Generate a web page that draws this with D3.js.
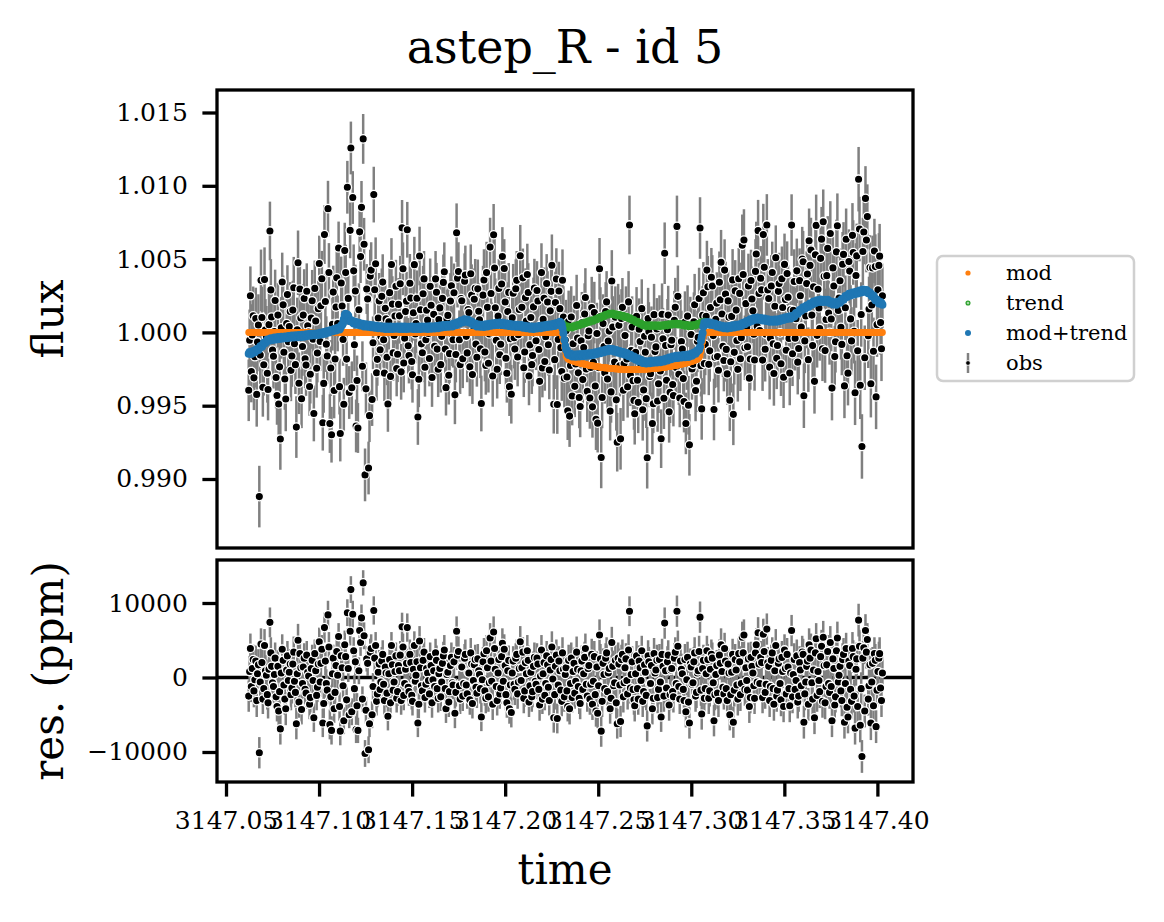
<!DOCTYPE html>
<html>
<head>
<meta charset="utf-8">
<script src="https://cdn.jsdelivr.net/npm/d3@7"></script>
<style>
  body { margin: 0; background: #fff; }
  svg { display: block; font-family: "DejaVu Serif", serif; }
  .tick text { font-family: "DejaVu Serif", serif; font-size: 25px; fill: #000; }
  .tick line { stroke: #000; stroke-width: 3.3; }
</style>
</head>
<body>
<div id="chart"></div>
<script>
// two interleaved sets of exposures (A and B)
// times: time - 3147, in units of 1e-4 d
const timeOffset = [
  622,631,641,650,660,669,679,688,698,707,717,726,736,745,755,764,774,783,792,802,811,821,830,840,849,859,868,878,887,897,
  906,915,925,934,944,953,963,972,982,991,1001,1010,1020,1029,1039,1048,1058,1067,1076,1086,1095,1105,1114,1124,1133,1143,1152,1162,1171,1181,
  1190,1199,1209,1218,1228,1237,1247,1256,1266,1275,1285,1294,1304,1313,1323,1332,1342,1351,1360,1370,1379,1389,1398,1408,1417,1427,1436,1446,1455,1465,
  1474,1483,1493,1502,1512,1521,1531,1540,1550,1559,1569,1578,1588,1597,1607,1616,1626,1635,1644,1654,1663,1673,1682,1692,1701,1711,1720,1730,1739,1749,
  1758,1767,1777,1786,1796,1805,1815,1824,1834,1843,1853,1862,1872,1881,1891,1900,1910,1919,1928,1938,1947,1957,1966,1976,1985,1995,2004,2014,2023,2033,
  2043,2052,2062,2071,2081,2090,2100,2109,2119,2128,2138,2147,2157,2166,2176,2185,2195,2204,2213,2223,2232,2242,2251,2261,2270,2280,2289,2299,2308,2318,
  2327,2336,2346,2355,2365,2374,2384,2393,2403,2412,2422,2431,2441,2450,2460,2469,2479,2488,2497,2507,2516,2526,2535,2545,2554,2564,2573,2583,2592,2602,
  2611,2620,2630,2639,2649,2658,2668,2677,2687,2696,2706,2715,2725,2734,2744,2753,2763,2772,2781,2791,2800,2810,2819,2829,2838,2848,2857,2867,2876,2886,
  2895,2904,2914,2923,2933,2942,2952,2961,2971,2980,2990,2999,3009,3018,3028,3037,3047,3056,3065,3075,3084,3094,3103,3113,3122,3132,3141,3151,3160,3170,
  3179,3188,3198,3207,3217,3226,3236,3245,3255,3264,3274,3283,3293,3302,3312,3321,3331,3340,3349,3359,3368,3378,3387,3397,3406,3416,3425,3435,3444,3454,
  3463,3472,3482,3491,3501,3510,3520,3529,3539,3548,3558,3567,3577,3586,3596,3605,3615,3624,3633,3643,3652,3662,3671,3681,3690,3700,3709,3719,3728,3738,
  3747,3756,3766,3775,3785,3794,3804,3813,3823,3832,3842,3851,3861,3870,3880,3889,3899,3908,3917,3927,3936,3946,3955,3965,3974,3984,3993,4003,4012,4022
];
const timeOffsetB = [
  627,636,646,655,665,674,684,693,703,712,722,731,741,750,760,769,779,788,797,807,816,826,835,845,854,864,873,883,892,902,
  911,920,930,939,949,958,968,977,987,996,1006,1015,1025,1034,1044,1053,1063,1072,1081,1091,1100,1110,1119,1129,1138,1148,1157,1167,1176,1186,
  1195,1204,1214,1223,1233,1242,1252,1261,1271,1280,1290,1299,1309,1318,1328,1337,1347,1356,1365,1375,1384,1394,1403,1413,1422,1432,1441,1451,1460,1470,
  1479,1488,1498,1507,1517,1526,1536,1545,1555,1564,1574,1583,1593,1602,1612,1621,1631,1640,1649,1659,1668,1678,1687,1697,1706,1716,1725,1735,1744,1754,
  1763,1772,1782,1791,1801,1810,1820,1829,1839,1848,1858,1867,1877,1886,1896,1905,1915,1924,1933,1943,1952,1962,1971,1981,1990,2000,2009,2019,2028,2038,
  2048,2057,2067,2076,2086,2095,2105,2114,2124,2133,2143,2152,2162,2171,2181,2190,2200,2209,2218,2228,2237,2247,2256,2266,2275,2285,2294,2304,2313,2323,
  2332,2341,2351,2360,2370,2379,2389,2398,2408,2417,2427,2436,2446,2455,2465,2474,2484,2493,2502,2512,2521,2531,2540,2550,2559,2569,2578,2588,2597,2607,
  2616,2625,2635,2644,2654,2663,2673,2682,2692,2701,2711,2720,2730,2739,2749,2758,2768,2777,2786,2796,2805,2815,2824,2834,2843,2853,2862,2872,2881,2891,
  2900,2909,2919,2928,2938,2947,2957,2966,2976,2985,2995,3004,3014,3023,3033,3042,3052,3061,3070,3080,3089,3099,3108,3118,3127,3137,3146,3156,3165,3175,
  3184,3193,3203,3212,3222,3231,3241,3250,3260,3269,3279,3288,3298,3307,3317,3326,3336,3345,3354,3364,3373,3383,3392,3402,3411,3421,3430,3440,3449,3459,
  3468,3477,3487,3496,3506,3515,3525,3534,3544,3553,3563,3572,3582,3591,3601,3610,3620,3629,3638,3648,3657,3667,3676,3686,3695,3705,3714,3724,3733,3743,
  3752,3761,3771,3780,3790,3799,3809,3818,3828,3837,3847,3856,3866,3875,3885,3894,3904,3913,3922,3932,3941,3951,3960,3970,3979,3989,3998,4008,4017,4027
];

// transit model, ppm from 1
const modPpm = [
  0,0,0,0,0,0,0,0,0,0, 0,0,0,0,0,0,0,0,0,0, 0,0,0,0,0,0,0,0,0,0,
  0,0,0,0,0,0,0,0,0,0, 0,0,0,0,0,0,0,0,0,0, 0,0,0,0,0,0,0,0,0,0,
  0,0,0,0,0,0,0,0,0,0, 0,0,0,0,0,0,0,0,0,0, 0,0,0,0,0,0,0,0,0,0,
  0,0,0,0,0,0,0,0,0,0, 0,0,0,0,0,0,0,0,0,0, 0,0,0,0,0,0,0,0,0,0,
  0,0,0,0,0,0,0,0,0,0, 0,0,0,0,0,0,0,0,0,0, 0,0,0,0,0,0,0,0,0,0,
  0,0,0,0,0,0,0,0,0,0, 0,0,0,0,0,0,0,0,0,0, 0,0,0,0,0,0,0,0,-300,-1000,
  -1600,-1800,-1850,-1900,-1950,-2000,-2030,-2060,-2090,-2120, -2150,-2180,-2210,-2240,-2260,-2280,-2300,-2320,-2340,-2360, -2380,-2400,-2410,-2420,-2440,-2450,-2460,-2470,-2480,-2490,
  -2500,-2510,-2510,-2520,-2520,-2530,-2530,-2530,-2530,-2530, -2530,-2530,-2520,-2520,-2510,-2510,-2500,-2490,-2480,-2470, -2460,-2450,-2440,-2420,-2410,-2400,-2380,-2360,-2340,-2320,
  -2300,-2280,-2260,-2240,-2210,-2180,-2150,-2120,-2090,-2060, -2030,-2000,-1950,-1900,-1850,-1800,-1600,-1000,-300,0, 0,0,0,0,0,0,0,0,0,0,
  0,0,0,0,0,0,0,0,0,0, 0,0,0,0,0,0,0,0,0,0, 0,0,0,0,0,0,0,0,0,0,
  0,0,0,0,0,0,0,0,0,0, 0,0,0,0,0,0,0,0,0,0, 0,0,0,0,0,0,0,0,0,0,
  0,0,0,0,0,0,0,0,0,0, 0,0,0,0,0,0,0,0,0,0, 0,0,0,0,0,0,0,0,0,0
];
const modPpmB = [
  0,0,0,0,0,0,0,0,0,0, 0,0,0,0,0,0,0,0,0,0, 0,0,0,0,0,0,0,0,0,0,
  0,0,0,0,0,0,0,0,0,0, 0,0,0,0,0,0,0,0,0,0, 0,0,0,0,0,0,0,0,0,0,
  0,0,0,0,0,0,0,0,0,0, 0,0,0,0,0,0,0,0,0,0, 0,0,0,0,0,0,0,0,0,0,
  0,0,0,0,0,0,0,0,0,0, 0,0,0,0,0,0,0,0,0,0, 0,0,0,0,0,0,0,0,0,0,
  0,0,0,0,0,0,0,0,0,0, 0,0,0,0,0,0,0,0,0,0, 0,0,0,0,0,0,0,0,0,0,
  0,0,0,0,0,0,0,0,0,0, 0,0,0,0,0,0,0,0,0,0, 0,0,0,0,0,0,0,0,-650,-1300,
  -1700,-1830,-1880,-1930,-1980,-2020,-2050,-2080,-2110,-2140, -2170,-2200,-2230,-2250,-2270,-2290,-2310,-2330,-2350,-2370, -2390,-2410,-2420,-2430,-2450,-2460,-2470,-2480,-2490,-2500,
  -2510,-2510,-2520,-2520,-2530,-2530,-2530,-2530,-2530,-2530, -2530,-2530,-2520,-2510,-2510,-2500,-2490,-2480,-2470,-2460, -2450,-2440,-2430,-2410,-2400,-2390,-2370,-2350,-2330,-2310,
  -2290,-2270,-2250,-2230,-2200,-2170,-2140,-2110,-2080,-2050, -2010,-1980,-1930,-1880,-1830,-1700,-1300,-650,-100,0, 0,0,0,0,0,0,0,0,0,0,
  0,0,0,0,0,0,0,0,0,0, 0,0,0,0,0,0,0,0,0,0, 0,0,0,0,0,0,0,0,0,0,
  0,0,0,0,0,0,0,0,0,0, 0,0,0,0,0,0,0,0,0,0, 0,0,0,0,0,0,0,0,0,0,
  0,0,0,0,0,0,0,0,0,0, 0,0,0,0,0,0,0,0,0,0, 0,0,0,0,0,0,0,0,0,0
];

// systematics trend, ppm from 1
const trendPpm = [
  -1450,-1400,-1380,-1300,-1250,-1150,-1100,-950,-850,-700, -600,-500,-480,-450,-430,-420,-400,-380,-370,-360, -350,-340,-320,-300,-290,-280,-270,-260,-250,-240,
  -230,-220,-200,-190,-170,-150,-140,-130,-120,-110, -100,-80,-60,-30,0,40,80,120,150,190, 220,260,300,500,900,1280,1200,900,780,700,
  660,620,580,560,530,500,480,460,450,440, 420,400,380,360,350,340,330,320,320,320, 310,330,300,320,340,310,320,330,310,320,
  300,320,340,310,320,300,330,310,320,340, 320,310,330,340,320,330,350,360,380,400, 420,440,430,460,450,480,500,540,600,650,
  700,760,800,820,800,760,700,620,560,500, 470,460,450,440,460,480,500,520,540,560, 580,590,600,590,580,560,540,520,500,480,
  470,460,450,440,430,410,390,370,350,330, 320,320,320,330,340,360,380,400,420,440, 460,470,480,500,540,580,620,660,560,480,
  420,360,340,350,380,420,460,500,540,580, 620,660,700,740,770,800,850,900,950,1000, 1050,1100,1150,1200,1250,1280,1270,1250,1220,1200,
  1180,1150,1120,1090,1060,1020,960,900,840,780, 720,660,600,540,480,460,450,450,460,460, 470,460,460,450,460,470,480,500,520,540,
  560,570,580,570,560,540,520,500,480,470, 460,460,470,490,520,560,620,680,700,680, 650,620,600,570,540,500,460,420,390,360,
  350,340,350,370,390,410,430,450,460,500, 540,600,660,720,780,840,880,920,950,940, 930,900,870,850,830,810,800,790,800,800,
  810,830,860,900,940,980,1000,1030,1020,1100, 1200,1300,1400,1500,1600,1680,1720,1780,1850,1920, 2000,2060,2100,2140,2170,2160,2150,2160,2170,2120,
  2050,2000,1970,1960,1980,2050,2150,2250,2350,2450, 2520,2580,2620,2650,2680,2720,2750,2790,2820,2850, 2840,2800,2700,2600,2500,2350,2200,2100,2000,1980
];
const trendPpmB = [
  -1340,-1470,-1270,-1360,-1130,-1200,-950,-980,-710,-730, -490,-570,-400,-510,-350,-480,-320,-450,-290,-420, -280,-400,-240,-370,-210,-350,-200,-330,-170,-310,
  -160,-290,-130,-250,-90,-220,-70,-200,-50,-180, -20,-140,20,-90,90,-10,170,60,240,130, 310,200,470,620,1180,1180,1120,760,820,600,
  720,520,650,470,590,410,550,380,520,350, 490,310,450,280,420,260,400,240,400,230, 400,230,390,250,410,230,410,240,400,230,
  390,250,410,240,390,230,400,240,410,250, 400,240,420,250,410,260,440,290,470,330, 510,360,520,380,540,410,600,490,700,600,
  810,700,890,730,860,650,740,510,610,400, 540,380,520,370,550,410,590,450,630,490, 660,510,680,500,650,470,610,430,570,400,
  540,380,520,360,500,320,460,280,420,250, 400,240,400,260,430,290,470,330,510,370, 540,400,570,440,640,520,720,530,600,370,
  460,280,420,290,480,360,560,440,640,520, 720,600,800,680,860,750,950,850,1050,950, 1150,1050,1250,1150,1340,1200,1340,1160,1290,1110,
  1240,1060,1180,1000,1120,910,1010,790,890,670, 770,550,650,430,550,380,530,380,540,390, 540,380,530,380,540,400,570,430,610,470,
  640,500,650,490,630,450,590,410,560,380, 540,390,560,420,620,510,730,610,770,590, 710,540,660,480,600,400,520,330,450,280,
  420,270,440,300,480,340,520,380,560,440, 650,550,770,670,890,780,980,860,1020,860, 990,810,940,770,900,730,870,720,880,730,
  900,770,960,840,1040,910,1090,950,1140,1070, 1330,1270,1530,1470,1720,1620,1830,1740,1970,1880, 2110,2000,2200,2070,2250,2080,2230,2080,2230,2000,
  2110,1900,2050,1890,2100,2020,2280,2220,2480,2410, 2630,2520,2720,2580,2780,2650,2850,2720,2920,2770, 2900,2670,2730,2470,2510,2190,2230,1970,2070,1890
];

// residuals obs - (mod+trend), ppm
const resPpm = [
  -2500,3900,1200,-1800,2200,500,-10100,4500,-2900,4300, 300,-3400,7400,1500,-1200,2600,-3900,-4500,-6900,3800, -1000,-4200,2900,700,-2300,1800,-500,-6200,5000,3200,
  -4300,1400,-1600,3000,200,-2700,2300,-5400,900,-1300, 4800,1900,-6100,6700,-800,8400,-6300,-7100,2600,-2000, 3500,5500,-7200,1300,-5800,2800,8700,-5000,11800,8500,
  -1500,-7000,-7100,6300,8000,12700,-10200,2500,-9700,3400, -5000,9000,4300,-2200,1800,-600,3100,-3100,600,-5200, 2400,4300,-1700,800,-2800,1600,3000,6800,-2400,1100,
  6700,-1900,2000,-3200,4300,300,-6100,4900,-1100,2300, -2700,1200,-400,2800,-3400,900,3300,-1500,500,-2600, 1900,3700,-4200,700,-1900,2700,-1000,-4800,6200,3500,
  -2900,1400,-800,3100,-2200,600,3300,-3500,1700,-1300, 2500,400,-5300,2100,-1800,3600,-2600,5300,-500,6100, 1100,-3100,2400,-1400,4600,3800,-2300,900,-4200,-4700,
  2200,-1600,3100,-600,4800,1300,-2800,2000,3600,-3300, 700,-1900,2700,-900,1800,-3700,3700,500,-2400,2900, -1300,1000,4100,-5400,1500,-5500,2200,-1700,3300,-2600,
  1300,-3900,-4200,2600,800,-2100,3400,-1200,-3500,2200, 500,3900,-2500,1600,-900,-3600,2800,-4500,-4800,5700, -7200,1900,-1500,3300,600,-4200,4700,-1100,2300,-6200,
  1800,-5900,3100,-700,2500,-2200,8900,400,-1600,-3800, 2900,-2900,1300,3600,-1900,700,-6500,2100,-800,-4200, 3200,1000,-2700,2400,-5300,1500,7300,-1400,3000,-2300,
  1200,-2600,3400,8900,-1200,2200,500,-3100,-4600,2700, -6100,1400,-700,3300,-2000,900,8100,-4900,2300,-1500, 3600,-2800,1100,2600,-5800,400,-2100,3000,4400,-1300,
  3900,-1500,1800,-5000,700,-6000,2400,-1000,3200,-2300, 5400,5700,1300,-1700,-3900,2700,600,-2800,4400,6000, -800,2000,5800,-2000,6500,1500,-1200,3300,-3600,4300,
  -1700,2500,-3000,800,3700,-2200,1400,-3800,6300,400, -1600,2900,-2500,1000,3400,-6000,-600,2200,4400,3700, -2900,-5400,5200,800,-1900,4200,5400,-3400,1700,-800,
  4700,-5800,1200,-2600,5300,300,-1800,2400,-6000,3900, -5300,1600,-3200,2800,-6800,2500,7700,-6400,-10600,4000, 6300,5100,-1100,-6100,1900,3200,-6600,800,3200,-3100
];
const resPpmB = [
  800,-1200,2400,-300,-3100,1700,-600,2000,-1500,900, -2300,1100,3300,-700,400,-2600,1500,-1900,600,2300, -2900,1000,-400,1800,-1400,3400,-2000,500,-3300,1300,
  -800,2600,-2100,700,-3600,1200,-400,3200,-2400,1800, -600,3800,-3500,2200,-1700,4100,-2600,500,-4200,1600, 300,-3900,2900,-1100,4400,-3000,1200,6200,-4600,3600,
  2100,-3800,900,4700,-2900,5600,-4400,1900,-6200,3900, -1200,2600,-3200,700,-1600,2200,-900,1400,-2100,500, -3400,1700,-600,2900,-1900,900,-3100,4100,-800,1900,
  -1300,3100,-2400,1100,-500,2100,-3600,1300,-1800,3400, -900,600,-2200,1600,-300,-1200,2300,-2800,1200,-600, 2900,-1500,400,-3300,1600,-700,2100,-2000,3000,-1100,
  1500,-2500,2600,-1000,700,-3000,1800,-400,2400,-2100, 900,-1500,-300,3200,-2800,1300,-700,2200,-3600,3900, -1200,600,-2200,2800,-500,1600,-3400,2300,-1000,600,
  -900,2600,-2200,1200,-400,3400,-1800,500,2300,-1100, -2600,1500,-500,2600,-1600,200,-2900,2000,-800,1700, -3100,2400,-200,-2300,3000,-1000,900,-3200,1100,400,
  -1800,2300,-800,-2700,1900,-500,1100,-2800,900,-1600, 2700,-900,1200,-2900,3100,-500,-2300,1400,-1100,2500, -3200,400,2600,-1900,1200,-2800,1500,-700,-3400,2600,
  -1000,2400,-2600,1300,-400,3700,-1400,2100,-3000,500, -1500,2200,-400,-3200,1700,-2400,2900,-900,1600,-2800, 600,2300,-1600,-600,3100,-2500,900,2100,-3700,1000,
  -1900,2600,-800,4200,-2900,1100,-1600,2400,-300,-3300, 1800,-900,2100,-2500,600,3500,-1700,1200,-2800,500, 2400,-1800,3100,-700,-2300,1600,-3100,1900,800,-2200,
  2200,-3100,600,-2300,3100,-1700,1000,-2900,2100,-800, 3300,-1600,-400,2500,-2700,1500,-1100,3300,-600,1800, 2700,-2700,3500,-900,2000,-3100,2300,-1500,900,-2500,
  1900,-800,2700,-3900,1200,3100,-1500,600,-2600,2400, -400,-3300,2000,-1100,3100,-2200,1500,-3600,2600,-700, 1000,3300,-2400,-400,2800,-3200,1600,-1200,3500,-2000,
  -1200,2500,-3700,3600,-600,1500,-3100,3100,-800,-4000, 2200,-1600,3900,-2500,1100,-3900,4200,-1500,2600,-4500, 3400,-2900,1700,-600,-3800,2300,-1700,2600,-1400,600
];

// 1-sigma errors, units of 1e-4 (relative flux)
const errE4 = [
  21,20,21,22,21,20,21,21,20,22, 21,21,20,21,22,21,20,21,21,20, 21,22,20,21,21,20,21,21,22,20,
  20,21,20,19,20,20,21,19,20,20, 19,20,19,20,19,19,20,19,18,19, 19,18,19,18,18,19,18,18,18,18,
  18,18,17,18,18,17,18,17,18,18, 18,19,18,18,19,18,19,19,18,19, 19,18,19,19,19,18,19,19,20,19,
  19,19,20,19,19,20,19,20,19,19, 20,19,20,19,20,20,19,20,20,19, 20,20,19,20,20,20,19,20,20,20,
  20,19,20,20,20,19,20,20,21,20, 20,20,19,20,20,21,20,20,20,21, 20,20,20,21,20,20,21,20,20,20,
  20,21,20,20,21,20,20,20,21,20, 20,21,20,20,20,21,20,21,20,20, 21,20,21,20,21,20,20,21,21,20,
  21,20,21,21,20,21,21,20,21,21, 21,20,21,21,20,21,21,21,20,21, 21,20,21,21,21,20,21,21,21,20,
  21,21,20,21,21,21,20,21,21,21, 20,21,21,20,21,21,21,20,21,21, 21,20,21,21,20,21,21,21,20,21,
  21,21,20,21,21,21,20,21,21,21, 21,20,21,21,21,20,21,21,21,21, 20,21,21,21,21,20,21,21,22,21,
  21,22,21,21,22,21,21,22,21,22, 21,21,22,21,22,21,22,21,22,21, 22,22,21,22,21,22,22,21,22,22,
  22,21,22,22,21,22,22,22,21,22, 22,22,21,22,22,22,22,21,22,22, 22,22,21,22,22,22,22,22,21,22,
  22,22,22,21,22,22,22,22,22,21, 22,22,23,22,22,22,22,23,22,22, 22,22,22,23,22,22,22,22,22,22
];
const errE4B = [
  21,21,20,21,22,21,20,21,21,21, 20,22,21,20,21,21,22,20,21,20, 21,21,22,20,21,21,20,22,21,21,
  20,20,21,19,20,21,20,19,20,19, 20,19,20,19,19,20,19,18,19,18, 19,19,18,18,19,18,18,19,18,18,
  18,17,18,18,17,18,18,17,18,19, 18,18,19,18,18,19,19,18,19,19, 18,19,19,18,19,19,19,18,19,20,
  19,20,19,19,20,19,19,20,20,19, 19,20,19,20,20,19,20,19,20,20, 19,20,20,20,19,20,20,19,20,20,
  20,20,19,20,20,20,21,20,20,20, 19,20,20,21,20,20,19,20,21,20, 20,21,20,20,20,21,20,20,21,20,
  21,20,20,21,20,20,21,20,20,21, 20,20,21,20,21,20,20,21,20,21, 20,21,20,20,21,21,20,20,21,21,
  20,21,21,20,21,20,21,21,21,20, 21,21,20,21,21,20,21,21,21,20, 21,21,20,21,21,21,21,20,21,21,
  21,20,21,21,20,21,21,21,20,21, 21,21,20,21,21,20,21,21,21,20, 21,21,20,21,21,21,20,21,21,21,
  21,20,21,21,20,21,21,21,21,20, 21,21,20,21,21,21,21,20,21,21, 21,21,20,21,21,21,22,21,21,21,
  22,21,22,21,21,22,21,22,21,21, 22,22,21,22,21,22,21,22,22,21, 22,21,22,22,21,22,21,22,22,21,
  21,22,22,21,22,22,21,22,22,22, 21,22,22,22,21,22,22,22,22,21, 22,22,22,21,22,22,22,21,22,22,
  22,22,21,22,22,22,21,22,22,22, 22,23,22,22,22,21,22,22,23,22, 22,22,22,22,23,22,22,22,22,22
];

const timeTicks = [3147.05, 3147.10, 3147.15, 3147.20, 3147.25, 3147.30, 3147.35, 3147.40];
const fluxTicks = [0.990, 0.995, 1.000, 1.005, 1.010, 1.015];
const resTicks = [-10000, 0, 10000];
const legendLabels = ["mod", "trend", "mod+trend", "obs"];

const sets = [
  [timeOffset, modPpm, trendPpm, resPpm, errE4],
  [timeOffsetB, modPpmB, trendPpmB, resPpmB, errE4B]
];
sets.forEach(s => {
  const lens = s.map(a => a.length);
  if (new Set(lens).size !== 1) throw new Error("array lengths differ: " + lens.join(","));
});

const width = 1164, height = 922;
const panelTop = { x0: 217, x1: 913, y0: 90, y1: 548 };
const panelBot = { x0: 217, x1: 913, y0: 560, y1: 782 };
const tickLen = 14.6, lw = 3.3;
const colors = { mod: "#ff7f0e", trend: "#2ca02c", modTrend: "#1f77b4", err: "#808080" };

const data = sets.flatMap(([t, m, tr, r, e]) => t.map((v, i) => ({
  time: 3147 + v * 1e-4,
  mod: 1 + m[i] * 1e-6,
  trend: 1 + tr[i] * 1e-6,
  modTrend: 1 + (m[i] + tr[i]) * 1e-6,
  flux: 1 + (m[i] + tr[i] + r[i]) * 1e-6,
  res: r[i],
  err: e[i] * 1e-4
}))).sort((a, b) => a.time - b.time);

const svg = d3.select("#chart").append("svg")
  .attr("width", width).attr("height", height);

const x = d3.scaleLinear().domain([3147.04516, 3147.41913]).range([panelTop.x0, panelTop.x1]);
const yTop = d3.scaleLinear().domain([0.985293, 1.016535]).range([panelTop.y1, panelTop.y0]);
const yRes = d3.scaleLinear().domain([-14027, 15772]).range([panelBot.y1, panelBot.y0]);

// obs marker: black disc with a thin white edge
const dotR = 4.2, dotEdge = 1.3, barW = 2.5;

// ---- top panel: obs with error bars, then models
const gTop = svg.append("g");
gTop.append("g").selectAll("line").data(data).join("line")
  .attr("x1", d => x(d.time)).attr("x2", d => x(d.time))
  .attr("y1", d => yTop(d.flux - d.err)).attr("y2", d => yTop(d.flux + d.err))
  .attr("stroke", colors.err).attr("stroke-width", barW);
gTop.append("g").selectAll("circle").data(data).join("circle")
  .attr("cx", d => x(d.time)).attr("cy", d => yTop(d.flux))
  .attr("r", dotR).attr("fill", "#000").attr("stroke", "#fff").attr("stroke-width", dotEdge);

const modelLayers = [
  { key: "mod", r: 3.4 },
  { key: "trend", r: 3.3 },
  { key: "modTrend", r: 4.0 }
];
modelLayers.forEach(m => {
  gTop.append("g").selectAll("circle").data(data).join("circle")
    .attr("cx", d => x(d.time)).attr("cy", d => yTop(d[m.key]))
    .attr("r", m.r).attr("fill", colors[m.key]);
});

// ---- bottom panel: residuals
const gBot = svg.append("g");
gBot.append("line")
  .attr("x1", panelBot.x0).attr("x2", panelBot.x1)
  .attr("y1", yRes(0)).attr("y2", yRes(0))
  .attr("stroke", "#000").attr("stroke-width", lw);
gBot.append("g").selectAll("line").data(data).join("line")
  .attr("x1", d => x(d.time)).attr("x2", d => x(d.time))
  .attr("y1", d => yRes(d.res - d.err * 1e6)).attr("y2", d => yRes(d.res + d.err * 1e6))
  .attr("stroke", colors.err).attr("stroke-width", barW);
gBot.append("g").selectAll("circle").data(data).join("circle")
  .attr("cx", d => x(d.time)).attr("cy", d => yRes(d.res))
  .attr("r", dotR).attr("fill", "#000").attr("stroke", "#fff").attr("stroke-width", dotEdge);

// ---- axes
svg.append("g")
  .attr("transform", `translate(${panelTop.x0},0)`)
  .call(d3.axisLeft(yTop).tickValues(fluxTicks).tickFormat(d3.format(".3f"))
    .tickSize(tickLen).tickPadding(tickLen))
  .call(g => g.select(".domain").remove());

svg.append("g")
  .attr("transform", `translate(${panelBot.x0},0)`)
  .call(d3.axisLeft(yRes).tickValues(resTicks)
    .tickFormat(d => d < 0 ? "\u2212" + Math.abs(d) : String(d))
    .tickSize(tickLen).tickPadding(tickLen))
  .call(g => g.select(".domain").remove());

svg.append("g")
  .attr("transform", `translate(0,${panelBot.y1})`)
  .call(d3.axisBottom(x).tickValues(timeTicks).tickFormat(d3.format(".2f"))
    .tickSize(tickLen).tickPadding(tickLen))
  .call(g => g.select(".domain").remove());

// frames on top of data
[panelTop, panelBot].forEach(p => {
  svg.append("rect")
    .attr("x", p.x0).attr("y", p.y0)
    .attr("width", p.x1 - p.x0).attr("height", p.y1 - p.y0)
    .attr("fill", "none").attr("stroke", "#000").attr("stroke-width", lw);
});

// ---- labels
svg.append("text")
  .attr("x", (panelTop.x0 + panelTop.x1) / 2).attr("y", 63)
  .attr("text-anchor", "middle").attr("font-size", 46)
  .text("astep_R - id 5");

svg.append("text")
  .attr("transform", `translate(63,${(panelTop.y0 + panelTop.y1) / 2}) rotate(-90)`)
  .attr("text-anchor", "middle").attr("font-size", 42)
  .text("flux");

svg.append("text")
  .attr("transform", `translate(63,${(panelBot.y0 + panelBot.y1) / 2}) rotate(-90)`)
  .attr("text-anchor", "middle").attr("font-size", 42)
  .text("res. (ppm)");

svg.append("text")
  .attr("x", (panelBot.x0 + panelBot.x1) / 2).attr("y", 884)
  .attr("text-anchor", "middle").attr("font-size", 42)
  .text("time");

// ---- legend
const legend = svg.append("g").attr("transform", "translate(937,256)");
legend.append("rect")
  .attr("width", 197).attr("height", 125).attr("rx", 6)
  .attr("fill", "#fff").attr("stroke", "#d0d0d0").attr("stroke-width", 2.5);

const legendRowY = [17, 47, 77, 107];
const legendMarkerX = 31, legendTextX = 69;
legendLabels.forEach((lab, i) => {
  const row = legend.append("g").attr("transform", `translate(0,${legendRowY[i]})`);
  if (lab === "mod") {
    row.append("circle").attr("cx", legendMarkerX).attr("r", 2.6).attr("fill", colors.mod);
  } else if (lab === "trend") {
    row.append("circle").attr("cx", legendMarkerX).attr("r", 1.9)
      .attr("fill", "#a6d8a6").attr("stroke", colors.trend).attr("stroke-width", 1.3);
  } else if (lab === "mod+trend") {
    row.append("circle").attr("cx", legendMarkerX).attr("r", 3.0).attr("fill", colors.modTrend);
  } else {
    row.append("line").attr("x1", legendMarkerX).attr("x2", legendMarkerX)
      .attr("y1", -10).attr("y2", 10).attr("stroke", colors.err).attr("stroke-width", 2.5);
    row.append("circle").attr("cx", legendMarkerX).attr("r", 2.4).attr("fill", "#000")
      .attr("stroke", "#fff").attr("stroke-width", 0.9);
  }
  row.append("text").attr("x", legendTextX).attr("dy", "0.32em")
    .attr("font-size", 21).text(lab);
});
</script>
</body>
</html>
